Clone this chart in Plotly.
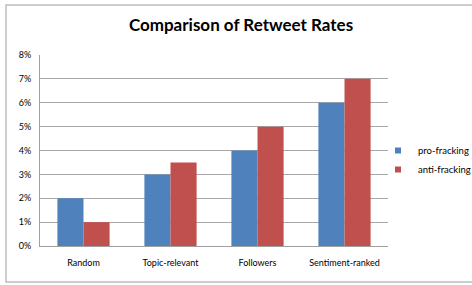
import plotly.graph_objects as go

categories = ["Random", "Topic-relevant", "Followers", "Sentiment-ranked"]
pro_fracking = [0.02, 0.03, 0.04, 0.06]
anti_fracking = [0.01, 0.035, 0.05, 0.07]
y_ticks = [0, 0.01, 0.02, 0.03, 0.04, 0.05, 0.06, 0.07, 0.08]
y_tick_labels = ["0%", "1%", "2%", "3%", "4%", "5%", "6%", "7%", "8%"]
series_names = ["pro-fracking", "anti-fracking"]
series_colors = ["#4F81BD", "#C0504D"]

FONT = "Lato, 'Noto Sans', sans-serif"

fig = go.Figure()
for name, vals, col in zip(series_names, [pro_fracking, anti_fracking], series_colors):
    fig.add_trace(go.Bar(name=name, x=categories, y=vals, showlegend=False,
                         marker=dict(color=col, line=dict(width=0))))
# compact square legend entries (Excel style)
for name, col in zip(series_names, series_colors):
    fig.add_trace(go.Scatter(name=name, x=[None], y=[None], mode="markers",
                             marker=dict(symbol="square", size=6, color=col),
                             showlegend=True, hoverinfo="skip"))

fig.update_layout(
    width=472, height=285,
    margin=dict(l=40, r=84, t=55, b=39, autoexpand=False),
    paper_bgcolor="white", plot_bgcolor="white",
    barmode="group", bargap=0.4, bargroupgap=0,
    title=dict(text="<b>Comparison of Retweet Rates</b>", x=241 / 472, xanchor="center",
               xref="container", yref="container",
               y=1 - 25 / 285, yanchor="middle",
               font=dict(family=FONT, size=17, color="black")),
    font=dict(family=FONT, size=9, color="black"),
    legend=dict(xref="container", yref="container",
                x=378 / 472, y=1 - 160 / 285, xanchor="left", yanchor="middle",
                font=dict(family=FONT, size=9.5, color="black"),
                tracegroupgap=0, itemsizing="trace", bgcolor="rgba(0,0,0,0)"),
    showlegend=True,
    xaxis=dict(showline=True, linecolor="#A0A0A0", linewidth=1, ticks="",
               tickfont=dict(size=9), fixedrange=True, automargin=False,
               ticklabelstandoff=8),
    yaxis=dict(range=[0, 0.08], tickvals=y_ticks, ticktext=y_tick_labels,
               showgrid=True, gridcolor="#A8A8A8", gridwidth=1,
               showline=True, linecolor="#A0A0A0", linewidth=1,
               ticks="", ticklen=0, tickfont=dict(size=9), zeroline=False,
               automargin=False, ticklabelstandoff=6, fixedrange=True),
    shapes=[dict(type="rect", xref="paper", yref="paper",
                 x0=(6 - 40) / 348, x1=(480 - 40) / 348,
                 y0=(246 - 282) / 191, y1=(246 - 5) / 191,
                 line=dict(color="#BDBDBD", width=1.5), layer="below")],
)

fig.write_html("out.html", config={"displayModeBar": False},
               post_script="document.body.style.margin='0';document.body.style.overflow='hidden';")
